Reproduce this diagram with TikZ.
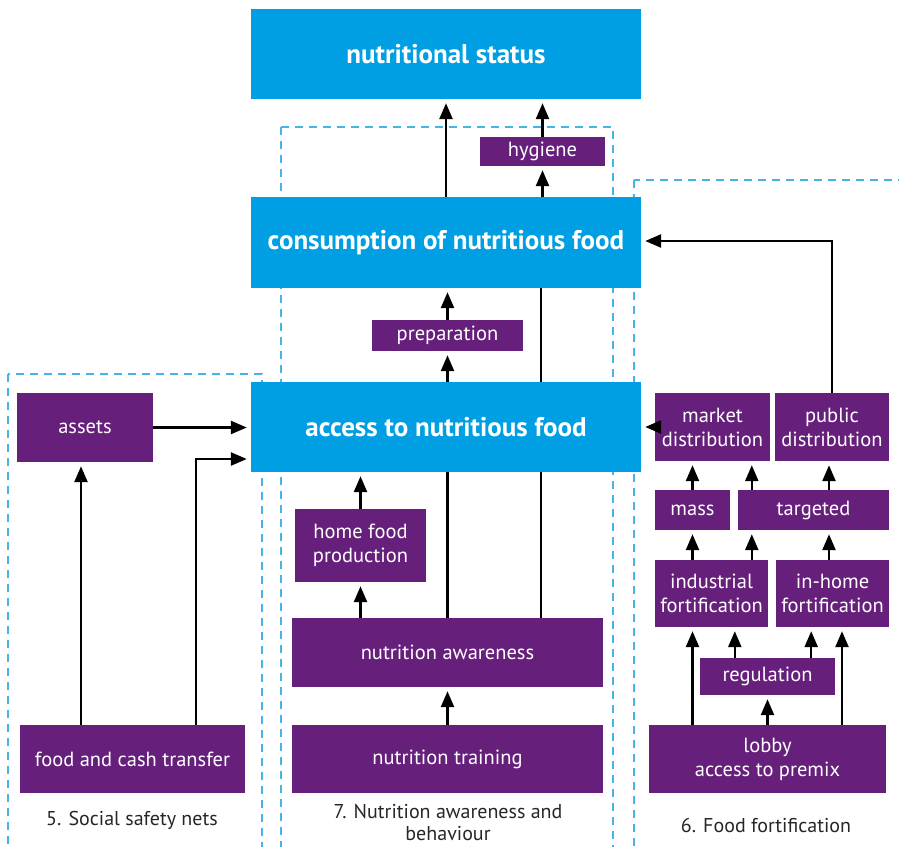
\documentclass[tikz,border=0pt]{standalone}
\usepackage{fontspec}
\setmainfont{PT Sans}
\usetikzlibrary{arrows.meta,backgrounds}
\definecolor{nutblue}{HTML}{009FE3}
\definecolor{nutpurple}{HTML}{671F7C}
\definecolor{nutdash}{HTML}{45B4E6}
\tikzset{>={Triangle[length=16pt,width=13pt]}}
\tikzset{
  bluebox/.style={fill=nutblue, text=white, inner sep=0pt,
    font=\fontsize{27}{30}\selectfont\bfseries,
    minimum width=390pt, minimum height=90pt},
  purplebox/.style={fill=nutpurple, text=white, inner sep=0pt, align=center,
    font=\fontsize{20.5}{24}\selectfont},
  groupbox/.style={draw=nutdash, line width=1.3pt, dash pattern=on 8pt off 6pt},
  flow/.style={->, line width=2.5pt, shorten >=4pt},
  plainflow/.style={line width=2.5pt},
  caption/.style={font=\fontsize{20}{22}\selectfont, text=black!85, align=center}
}

\begin{document}
\begin{tikzpicture}[x=1pt, y=-1pt]
    \useasboundingbox (0,0) rectangle (899,846);
    \clip (0,0) rectangle (899,846);
    % groups
    \draw[groupbox] (8,374) rectangle (262,870);
    \draw[groupbox] (281,127) rectangle (613,870);
    \draw[groupbox] (634,180) rectangle (920,870);

    % outcomes
    \node[bluebox] (status) at (446,54) {nutritional status};
    \node[bluebox, minimum height=91pt] (consum) at (446,242.5) {consumption of nutritious food};
    \node[bluebox] (access) at (446,427) {access to nutritious food};

    % 7. nutrition awareness and behaviour
    \node[purplebox, minimum width=125pt, minimum height=29pt] (hyg) at (542.5,151.5) {hygiene};
    \node[purplebox, minimum width=151pt, minimum height=31pt] (prep) at (447.5,335.5) {preparation};
    \node[purplebox, minimum width=131pt, minimum height=73pt] (homefood) at (360.5,545.5) {home food\\production};
    \node[purplebox, minimum width=311pt, minimum height=69pt] (aware) at (447.5,652.5) {nutrition awareness};
    \node[purplebox, minimum width=311pt, minimum height=68pt] (training) at (447.5,759) {nutrition training};

    % 5. social safety nets
    \node[purplebox, minimum width=136pt, minimum height=69pt] (assets) at (85,427.5) {assets};
    \node[purplebox, minimum width=225pt, minimum height=68pt] (transfer) at (132.5,759) {food and cash transfer};

    % 6. food fortification
    \node[purplebox, minimum width=115pt, minimum height=68pt] (market) at (712.5,427) {market\\distribution};
    \node[purplebox, minimum width=114pt, minimum height=68pt] (public) at (832,427) {public\\distribution};
    \node[purplebox, minimum width=75pt, minimum height=40pt] (mass) at (692.5,510) {mass};
    \node[purplebox, minimum width=151pt, minimum height=40pt] (targeted) at (813.5,510) {targeted};
    \node[purplebox, minimum width=113pt, minimum height=67pt] (indust) at (711.5,593.5) {industrial\\fortification};
    \node[purplebox, minimum width=113pt, minimum height=67pt] (inhome) at (832.5,593.5) {in-home\\fortification};
    \node[purplebox, minimum width=135pt, minimum height=37pt] (regul) at (767.5,676.5) {regulation};
    \node[purplebox, minimum width=237pt, minimum height=68pt] (lobby) at (767.5,759) {lobby\\access to premix};

    % captions
    \node[caption] (capsafety) at (132,820) {5. Social safety nets};
    \node[caption] (capaware) at (448,822) {7. Nutrition awareness and\\behaviour};
    \node[caption] (capfort) at (766,825) {6. Food fortification};

    % connectors
    \begin{scope}[on background layer]
        \draw[plainflow] ([xshift=-1.5pt]hyg |- aware.north) -- ([xshift=-1.5pt]hyg |- consum.south);
    \end{scope}
    \draw[flow] (consum.north) -- (status.south);
    \draw[flow] (hyg |- consum.north) -- (hyg.south);
    \draw[flow] (hyg.north) -- (hyg |- status.south);
    \draw[flow] (prep |- access.north) -- (prep.south);
    \draw[flow] (prep.north) -- (prep |- consum.south);
    \draw[plainflow] (aware.north) -- (aware.north |- access.south);
    \draw[flow] (homefood |- aware.north) -- (homefood.south);
    \draw[flow] (homefood.north) -- (homefood |- access.south);
    \draw[flow] (training.north) -- (aware.south);

    \draw[flow] (assets.east) -- (assets.east -| access.west);
    \draw[flow] ([xshift=-4pt]assets |- transfer.north) -- ([xshift=-4pt]assets.south);
    \draw[flow] ([xshift=63.5pt]transfer.north) |- ([yshift=-32pt]access.west);

    \draw[flow] (public.north) |- ([yshift=1.5pt]consum.east);
    \draw[flow] (market.west) -- (market.west -| access.east);
    \draw[flow] (mass.north) -- (mass |- market.south);
    \draw[flow] ([xshift=14pt]targeted.north west) -- ([xshift=14pt]targeted.north west |- market.south);
    \draw[flow] ([xshift=-3pt]public |- targeted.north) -- ([xshift=-3pt]public.south);
    \draw[flow] (mass |- indust.north) -- (mass.south);
    \draw[flow] ([xshift=14pt]targeted.south west |- indust.north) -- ([xshift=14pt]targeted.south west);
    \draw[flow] ([xshift=-3.5pt]inhome.north) -- ([xshift=-3.5pt]inhome.north |- targeted.south);
    \draw[flow] (mass |- lobby.north) -- (mass |- indust.south);
    \draw[flow] ([xshift=35pt]regul.north west) -- ([xshift=35pt]regul.north west |- indust.south);
    \draw[flow] ([xshift=-24pt]regul.north east) -- ([xshift=-24pt]regul.north east |- inhome.south);
    \draw[flow] ([xshift=9.5pt]inhome |- lobby.north) -- ([xshift=9.5pt]inhome.south);
    \draw[flow] (lobby.north) -- (regul.south);
\end{tikzpicture}
\end{document}
